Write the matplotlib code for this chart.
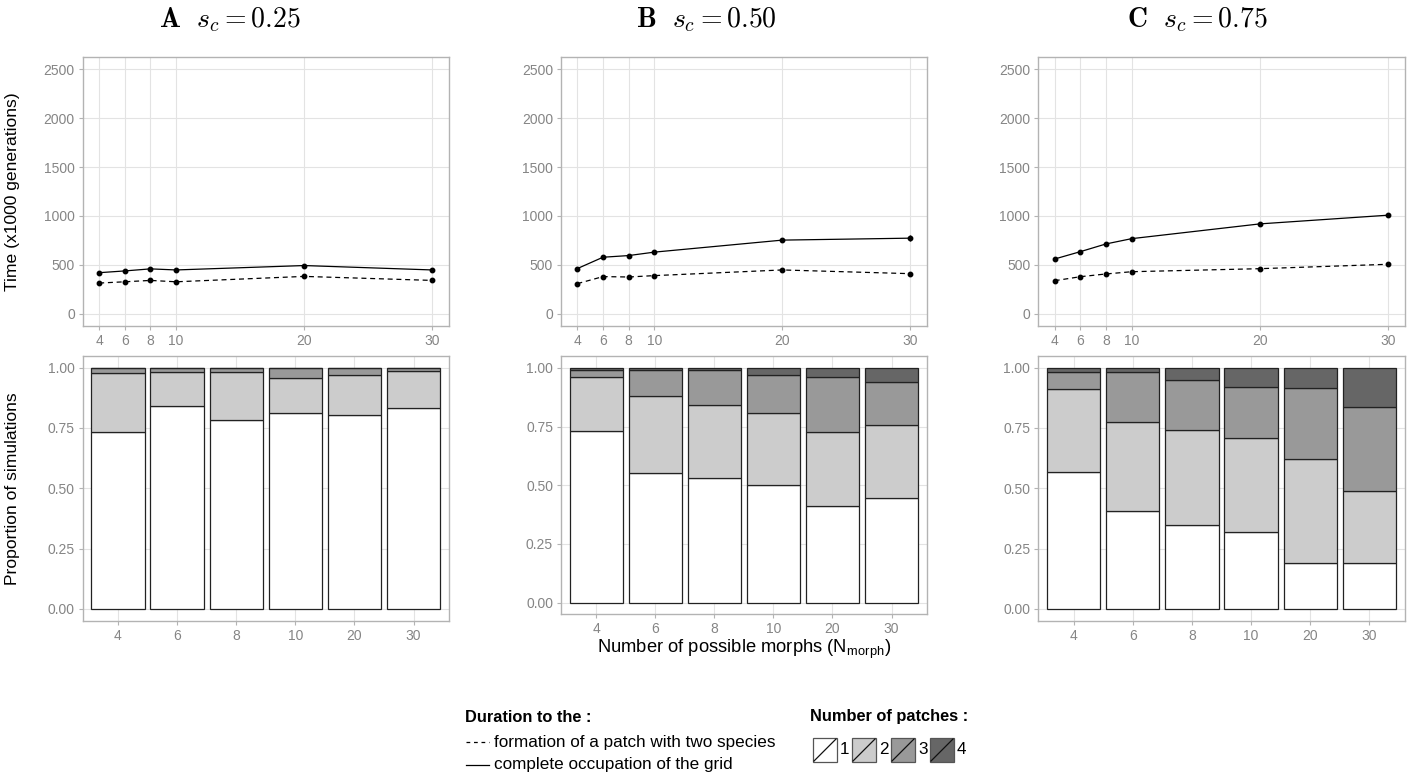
import numpy as np
import matplotlib
matplotlib.use("Agg")
import matplotlib.pyplot as plt
from matplotlib.patches import Rectangle
from matplotlib.lines import Line2D

plt.rcParams['font.family'] = ['Liberation Sans', 'DejaVu Sans']
plt.rcParams['mathtext.fontset'] = 'cm'

# nombre de morphes possibles
n_morph = [4, 6, 8, 10, 20, 30]
n_labels = ['4', '6', '8', '10', '20', '30']

# temps (x1000 generations): occupation complete / formation d'un patch a deux especes
full_A = [420, 438, 459, 448, 493, 448]
two_A = [314, 327, 341, 327, 382, 341]
full_B = [462, 578, 595, 630, 753, 773]
two_B = [308, 380, 376, 390, 448, 410]
full_C = [560, 635, 714, 768, 919, 1008]
two_C = [338, 379, 407, 430, 461, 506]

# barres d'erreur
err_full_A = [10, 12, 14, 12, 16, 12]
err_two_A = [6, 6, 7, 6, 9, 7]
err_full_B = [10, 14, 14, 16, 20, 28]
err_two_B = [6, 8, 8, 8, 10, 9]
err_full_C = [10, 12, 14, 14, 16, 18]
err_two_C = [6, 7, 8, 8, 9, 10]

# proportion de simulations selon le nombre de patches (1, 2, 3, 4)
props_A = [[0.732, 0.840, 0.785, 0.814, 0.805, 0.834],
           [0.246, 0.140, 0.195, 0.145, 0.164, 0.151],
           [0.022, 0.020, 0.020, 0.041, 0.028, 0.015],
           [0.000, 0.000, 0.000, 0.000, 0.003, 0.000]]
props_B = [[0.731, 0.551, 0.530, 0.500, 0.413, 0.445],
           [0.229, 0.329, 0.310, 0.310, 0.315, 0.313],
           [0.033, 0.110, 0.150, 0.162, 0.232, 0.182],
           [0.007, 0.010, 0.010, 0.028, 0.040, 0.060]]
props_C = [[0.569, 0.405, 0.349, 0.319, 0.192, 0.192],
           [0.341, 0.371, 0.392, 0.391, 0.430, 0.297],
           [0.070, 0.204, 0.209, 0.208, 0.295, 0.346],
           [0.020, 0.020, 0.050, 0.082, 0.083, 0.165]]

patch_colors = ['#ffffff', '#cccccc', '#999999', '#666666']
patch_labels = ['1', '2', '3', '4']
titles = [r'$\mathbf{A}\enspace\, s_c = 0.25$', r'$\mathbf{B}\enspace\, s_c = 0.50$',
          r'$\mathbf{C}\enspace\, s_c = 0.75$']

W, H = 1419, 781
fig = plt.figure(figsize=(W / 100, H / 100), dpi=100)

def px(x0, y0, x1, y1):
    return [x0 / W, 1 - y1 / H, (x1 - x0) / W, (y1 - y0) / H]

border = '#b3b3b3'
grid = '#e3e3e3'
tickc = '#858585'

def style(ax):
    for s in ax.spines.values():
        s.set_color(border)
        s.set_linewidth(1.0)
    ax.tick_params(colors=border, labelcolor=tickc, labelsize=10, length=3, width=0.8, pad=2.5)
    ax.grid(True, color=grid, linewidth=0.8)
    ax.set_axisbelow(True)

top_boxes = [(82.5, 57, 449, 326), (560.7, 57, 927, 326), (1038, 57, 1405, 326)]
bot_boxes = [(82.5, 355.6, 449, 621), (560.7, 356.2, 927, 614.4), (1038, 355.6, 1405, 621)]
title_x = [230, 706, 1197]

full = [full_A, full_B, full_C]
two = [two_A, two_B, two_C]
efull = [err_full_A, err_full_B, err_full_C]
etwo = [err_two_A, err_two_B, err_two_C]
props = [props_A, props_B, props_C]

for i in range(3):
    # temps
    ax = fig.add_axes(px(*top_boxes[i]))
    style(ax)
    ax.errorbar(n_morph, two[i], yerr=etwo[i], color='black', ls=(0, (4, 3)), lw=0.9,
                marker='o', ms=3.2, capsize=0, elinewidth=0.9)
    ax.errorbar(n_morph, full[i], yerr=efull[i], color='black', ls='-', lw=0.9,
                marker='o', ms=3.2, capsize=0, elinewidth=0.9)
    ax.set_xlim(2.7, 31.3)
    ax.set_ylim(-125, 2625)
    ax.set_xticks(n_morph)
    ax.set_xticklabels(n_labels)
    ax.set_yticks([0, 500, 1000, 1500, 2000, 2500])

    # proportions
    bx = fig.add_axes(px(*bot_boxes[i]))
    style(bx)
    pos = np.arange(len(n_morph))
    bottom = np.zeros(len(n_morph))
    for k in range(4):
        vals = np.array(props[i][k])
        bx.bar(pos, vals, bottom=bottom, width=0.9, color=patch_colors[k],
               edgecolor='#222222', linewidth=0.9)
        bottom += vals
    bx.set_xlim(-0.6, 5.6)
    bx.set_ylim(-0.05, 1.05)
    bx.set_xticks(pos)
    bx.set_xticklabels(n_labels)
    bx.set_yticks([0, 0.25, 0.5, 0.75, 1.0])
    bx.set_yticklabels(['0.00', '0.25', '0.50', '0.75', '1.00'])
    if i == 1:
        bx.set_xlabel(r'Number of possible morphs (N$_{\mathregular{morph}}$)', fontsize=13.2, labelpad=1)
    if i == 0:
        ax.set_ylabel('Time (x1000 generations)', fontsize=12.6)
        bx.set_ylabel('Proportion of simulations', fontsize=12.6)
        ax.yaxis.set_label_coords(-0.17, 0.5)
        bx.yaxis.set_label_coords(-0.17, 0.5)

    fig.text(title_x[i] / W, 1 - 20 / H, titles[i], fontsize=20, ha='center', va='center')

# legende
lg = fig.add_axes([0, 0, 1, 1])
lg.set_xlim(0, W)
lg.set_ylim(H, 0)
lg.axis('off')
lg.text(465, 717, 'Duration to the :', fontsize=11.8, fontweight='bold', va='center')
lg.add_line(Line2D([466, 489], [742, 742], color='black', lw=0.9, ls=(0, (3, 3))))
lg.text(494, 742, 'formation of a patch with two species', fontsize=12.3, va='center')
lg.add_line(Line2D([466, 489], [765, 765], color='black', lw=0.9))
lg.text(494, 765, 'complete occupation of the grid', fontsize=12.3, va='center')

lg.text(810, 717, 'Number of patches :', fontsize=11.8, fontweight='bold', va='center')
box_x = [813, 852, 891, 930]
for k in range(4):
    x0 = box_x[k]
    lg.add_patch(Rectangle((x0, 738), 24, 24, facecolor=patch_colors[k],
                           edgecolor='#555555', lw=0.9))
    lg.add_line(Line2D([x0 + 1, x0 + 23], [761, 739], color='#111111', lw=0.9))
    lg.text(x0 + 27, 750, patch_labels[k], fontsize=12.3, va='center')

fig.savefig('out.png', dpi=100)
